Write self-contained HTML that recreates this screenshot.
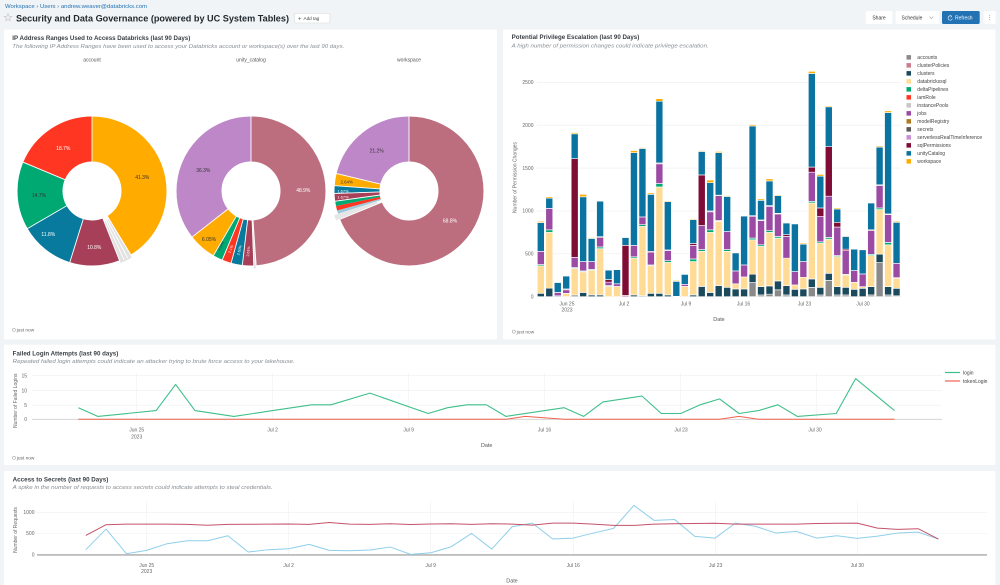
<!DOCTYPE html>
<html><head><meta charset="utf-8">
<style>
html,body{margin:0;padding:0;background:#f1f4f6;overflow:hidden;}
svg{display:block;font-family:"Liberation Sans",Arial,sans-serif;}
.A{fill:#8a8a8a}.C{fill:#1b4a5c}.Y{fill:#FFDB96}.G{fill:#00A972}.J{fill:#9b4ba3}.M{fill:#7f0c35}.U{fill:#0b73a0}.W{fill:#FFAB00}
.bars rect{stroke:#fff;stroke-width:0.6;vector-effect:non-scaling-stroke}
.tk{font-size:5px;fill:#666}
.ttl{font-size:6px;font-weight:bold;fill:#3a3f44}
.sub{font-size:5.4px;font-style:italic;fill:#8a8f94}
.lg{font-size:5px;fill:#444}
.pl{font-size:5px;text-anchor:middle}
.sep{stroke:#fff;stroke-width:0.9}
</style></head><body>
<svg width="1000" height="585" viewBox="0 0 1000 585">
<rect width="1000" height="585" fill="#f1f4f6"/>

<!-- Header -->
<text x="5" y="8" font-size="5" fill="#2272b4" textLength="142" lengthAdjust="spacingAndGlyphs">Workspace  ›  Users  ›  andrew.weaver@databricks.com</text>
<polygon points="8,13.6 9,16.3 11.8,16.4 9.6,18.1 10.4,20.8 8,19.2 5.6,20.8 6.4,18.1 4.2,16.4 7,16.3" fill="none" stroke="#c4c4c4" stroke-width="0.6"/>
<text x="16" y="21.6" font-size="9.6" font-weight="bold" fill="#1f272d" textLength="273" lengthAdjust="spacingAndGlyphs">Security and Data Governance (powered by UC System Tables)</text>
<rect x="294.5" y="13.5" width="35.5" height="9.5" rx="1.5" fill="#fff" stroke="#d6d9dc" stroke-width="0.6"/>
<text x="298" y="20.4" font-size="6" fill="#555">+</text>
<text x="303.5" y="20.1" font-size="4.6" fill="#444">Add tag</text>

<rect x="865.7" y="11" width="26.6" height="13" rx="1.5" fill="#fff"/>
<text x="879" y="19.3" font-size="5" fill="#333" text-anchor="middle">Share</text>
<rect x="895.7" y="11" width="43.6" height="13" rx="1.5" fill="#fff"/>
<text x="901.5" y="19.3" font-size="5" fill="#333">Schedule</text>
<path d="M929.5,16.6 L931.3,18.6 L933.1,16.6" fill="none" stroke="#666" stroke-width="0.5"/>
<rect x="942" y="11" width="37.7" height="13" rx="1.5" fill="#2272b4"/>
<path d="M951.6,16.2 A2.2,2.2 0 1 0 952.4,18.6" fill="none" stroke="#fff" stroke-width="0.6"/>
<path d="M950.4,15.2 L951.9,16.4 L950.5,17.5" fill="none" stroke="#fff" stroke-width="0.5"/>
<text x="955" y="19.3" font-size="5" fill="#fff">Refresh</text>
<rect x="983.7" y="11" width="12" height="13" rx="1.5" fill="#fff"/>
<circle cx="989.7" cy="15.3" r="0.45" fill="#888"/><circle cx="989.7" cy="17.5" r="0.45" fill="#888"/><circle cx="989.7" cy="19.7" r="0.45" fill="#888"/>

<!-- Panels -->
<rect x="4" y="29.5" width="493" height="310" rx="1.5" fill="#fff"/>
<rect x="503" y="29.5" width="492.5" height="310" rx="1.5" fill="#fff"/>
<rect x="4" y="344.7" width="991.5" height="120.3" rx="1.5" fill="#fff"/>
<rect x="4" y="471" width="991.5" height="120" rx="1.5" fill="#fff"/>

<!-- Panel 1: pies -->
<text class="ttl" x="12.3" y="40.2" textLength="178" lengthAdjust="spacingAndGlyphs">IP Address Ranges Used to Access Databricks (last 90 Days)</text>
<text class="sub" x="12.3" y="48.2" textLength="332" lengthAdjust="spacingAndGlyphs">The following IP Address Ranges have been used to access your Databricks account or workspace(s) over the last 90 days.</text>
<text x="92" y="61.7" font-size="5" fill="#555" text-anchor="middle">account</text>
<text x="251" y="61.7" font-size="5" fill="#555" text-anchor="middle">unity_catalog</text>
<text x="409" y="61.7" font-size="5" fill="#555" text-anchor="middle">workspace</text>

<!-- account pie -->
<g transform="translate(92 191) rotate(-90)" fill="none" stroke-width="45">
<circle r="52" stroke="#FFAB00" stroke-dasharray="134.94 400"/>
<circle r="52" stroke="#A63F57" stroke-dasharray="35.29 400" stroke-dashoffset="-143.76"/>
<circle r="52" stroke="#077A9D" stroke-dasharray="38.55 400" stroke-dashoffset="-179.05"/>
<circle r="52" stroke="#00A972" stroke-dasharray="48.03 400" stroke-dashoffset="-217.60"/>
<circle r="52" stroke="#FF3621" stroke-dasharray="61.10 400" stroke-dashoffset="-265.63"/>
<g transform="translate(-2.7 1.3)"><circle r="52" stroke="#e2e2e2" stroke-dasharray="8.82 400" stroke-dashoffset="-134.94"/></g>
<g class="sep">
<line x1="29" x2="76"/><line x1="29" x2="76" transform="rotate(148.68)"/><line x1="29" x2="76" transform="rotate(152)"/><line x1="29" x2="76" transform="rotate(155)"/><line x1="29" x2="76" transform="rotate(158.4)"/><line x1="29" x2="76" transform="rotate(197.28)"/><line x1="29" x2="76" transform="rotate(239.76)"/><line x1="29" x2="76" transform="rotate(292.68)"/>
</g>
</g>
<text class="pl" x="142.3" y="179" fill="#333">41.3%</text>
<text class="pl" x="63.3" y="150" fill="#fff">18.7%</text>
<text class="pl" x="39" y="197" fill="#333">14.7%</text>
<text class="pl" x="48.3" y="236" fill="#fff">11.8%</text>
<text class="pl" x="94.3" y="249" fill="#fff">10.8%</text>

<!-- unity pie -->
<g transform="translate(251 191) rotate(-90)" fill="none" stroke-width="45">
<circle r="52" stroke="#BC6E7E" stroke-dasharray="159.77 400"/>
<circle r="52" stroke="#A63F57" stroke-dasharray="8.00 400" stroke-dashoffset="-161.40"/>
<circle r="52" stroke="#077A9D" stroke-dasharray="8.00 400" stroke-dashoffset="-169.40"/>
<circle r="52" stroke="#FF3621" stroke-dasharray="6.53 400" stroke-dashoffset="-177.40"/>
<circle r="52" stroke="#00A972" stroke-dasharray="6.86 400" stroke-dashoffset="-183.93"/>
<circle r="52" stroke="#FFAB00" stroke-dasharray="19.77 400" stroke-dashoffset="-190.79"/>
<circle r="52" stroke="#BE88C8" stroke-dasharray="116.15 400" stroke-dashoffset="-210.56"/>
<g transform="translate(-3 0.2)"><circle r="52" stroke="#e2e2e2" stroke-dasharray="1.63 400" stroke-dashoffset="-159.77"/></g>
<g class="sep">
<line x1="29" x2="76"/><line x1="29" x2="76" transform="rotate(176.04)"/><line x1="29" x2="76" transform="rotate(177.84)"/><line x1="29" x2="76" transform="rotate(186.65)"/><line x1="29" x2="76" transform="rotate(195.46)"/><line x1="29" x2="76" transform="rotate(202.66)"/><line x1="29" x2="76" transform="rotate(210.22)"/><line x1="29" x2="76" transform="rotate(231.99)"/>
</g>
</g>
<text class="pl" x="203.3" y="172" fill="#333">36.3%</text>
<text class="pl" x="303.3" y="192" fill="#fff">48.9%</text>
<text class="pl" x="209" y="241" fill="#333">6.05%</text>
<text font-size="3.6" fill="#fff" text-anchor="middle" transform="translate(249.5 251.5) rotate(-84)">2.61%</text>
<text font-size="3.6" fill="#fff" text-anchor="middle" transform="translate(240.5 250.5) rotate(-76)">2.63%</text>
<text font-size="3.6" fill="#fff" text-anchor="middle" transform="translate(231.8 249.5) rotate(-69)">2.1%</text>
<text font-size="3.6" fill="#333" text-anchor="middle" transform="translate(222 246.5) rotate(-62)">2.24%</text>

<!-- workspace pie -->
<g transform="translate(409 191) rotate(-90)" fill="none" stroke-width="45">
<circle r="52" stroke="#BC6E7E" stroke-dasharray="224.79 400"/>
<circle r="52" stroke="#9cc9dc" stroke-dasharray="2.29 400" stroke-dashoffset="-228.71"/>
<circle r="52" stroke="#FF3621" stroke-dasharray="3.27 400" stroke-dashoffset="-231.00"/>
<circle r="52" stroke="#00A972" stroke-dasharray="3.59 400" stroke-dashoffset="-234.27"/>
<circle r="52" stroke="#A63F57" stroke-dasharray="5.46 400" stroke-dashoffset="-237.86"/>
<circle r="52" stroke="#077A9D" stroke-dasharray="5.46 400" stroke-dashoffset="-243.32"/>
<circle r="52" stroke="#FFAB00" stroke-dasharray="8.63 400" stroke-dashoffset="-248.78"/>
<circle r="52" stroke="#BE88C8" stroke-dasharray="69.33 400" stroke-dashoffset="-257.41"/>
<g transform="translate(-1.4 -3.8)"><circle r="52" stroke="#e6e6e6" stroke-dasharray="3.92 400" stroke-dashoffset="-224.79"/></g>
<g class="sep">
<line x1="29" x2="76"/><line x1="29" x2="76" transform="rotate(247.68)"/><line x1="29" x2="76" transform="rotate(262.08)"/><line x1="29" x2="76" transform="rotate(268.09)"/><line x1="29" x2="76" transform="rotate(274.1)"/><line x1="29" x2="76" transform="rotate(283.6)"/>
</g>
</g>
<text class="pl" x="376.7" y="152.5" fill="#333">21.2%</text>
<text class="pl" x="450" y="222.5" fill="#fff">68.8%</text>
<text x="346.7" y="183.5" font-size="4.4" fill="#333" text-anchor="middle">2.64%</text>
<text x="343" y="192.4" font-size="4" fill="#fff" text-anchor="middle">1.67%</text>
<text x="343" y="198.3" font-size="4" fill="#fff" text-anchor="middle">1.67%</text>

<circle cx="13.8" cy="329.8" r="1.6" fill="none" stroke="#888" stroke-width="0.5"/>
<text x="16.6" y="331.6" font-size="4.8" fill="#666">just now</text>

<!-- Panel 2: bars -->
<text class="ttl" x="511.7" y="39.2" textLength="127.6" lengthAdjust="spacingAndGlyphs">Potential Privilege Escalation (last 90 Days)</text>
<text class="sub" x="511.7" y="47.6" textLength="197" lengthAdjust="spacingAndGlyphs">A high number of permission changes could indicate privilege escalation.</text>
<g stroke="#eeeeee" stroke-width="0.6">
<line x1="537" x2="901" y1="82.3" y2="82.3"/><line x1="537" x2="901" y1="125.2" y2="125.2"/><line x1="537" x2="901" y1="168.1" y2="168.1"/><line x1="537" x2="901" y1="211" y2="211"/><line x1="537" x2="901" y1="253.8" y2="253.8"/>
</g>
<line x1="537" x2="901" y1="296.7" y2="296.7" stroke="#d6d6d6" stroke-width="0.6"/>
<g class="tk" text-anchor="end">
<text x="533.5" y="84">2500</text><text x="533.5" y="126.9">2000</text><text x="533.5" y="169.8">1500</text><text x="533.5" y="212.7">1000</text><text x="533.5" y="255.5">500</text><text x="533.5" y="298.4">0</text>
</g>
<text class="tk" transform="translate(516.5 177.5) rotate(-90)" text-anchor="middle">Number of Permission Changes</text>
<g class="tk" text-anchor="middle">
<text x="567" y="305.7">Jun 25</text><text x="567" y="311.7">2023</text>
<text x="624" y="305.7">Jul 2</text><text x="686" y="305.7">Jul 9</text><text x="743.5" y="305.7">Jul 16</text><text x="804.5" y="305.7">Jul 23</text><text x="863" y="305.7">Jul 30</text>
</g>
<text x="719" y="320.8" font-size="5.4" fill="#555" text-anchor="middle">Date</text>

<g class="bars" transform="translate(0 296.7) scale(1 -0.08572)">
<g transform="translate(537.3 0)"><rect class="C" width="7" y="0" height="40"/><rect class="Y" width="7" y="40" height="320"/><rect class="G" width="7" y="360" height="15"/><rect class="J" width="7" y="375" height="155"/><rect class="U" width="7" y="530" height="335"/><rect class="W" width="7" y="865" height="15"/></g>
<g transform="translate(545.77 0)"><rect class="C" width="7" y="0" height="100"/><rect class="Y" width="7" y="100" height="650"/><rect class="G" width="7" y="750" height="30"/><rect class="J" width="7" y="780" height="250"/><rect class="U" width="7" y="1030" height="120"/><rect class="W" width="7" y="1150" height="15"/></g>
<g transform="translate(554.24 0)"><rect class="C" width="7" y="0" height="10"/><rect class="J" width="7" y="10" height="40"/><rect class="U" width="7" y="50" height="115"/></g>
<g transform="translate(562.71 0)"><rect class="Y" width="7" y="0" height="40"/><rect class="J" width="7" y="40" height="40"/><rect class="M" width="7" y="80" height="10"/><rect class="U" width="7" y="90" height="150"/></g>
<g transform="translate(571.18 0)"><rect class="A" width="7" y="0" height="20"/><rect class="Y" width="7" y="20" height="310"/><rect class="G" width="7" y="330" height="10"/><rect class="J" width="7" y="340" height="120"/><rect class="M" width="7" y="460" height="1150"/><rect class="U" width="7" y="1610" height="290"/><rect class="W" width="7" y="1900" height="15"/></g>
<g transform="translate(579.65 0)"><rect class="C" width="7" y="0" height="50"/><rect class="Y" width="7" y="50" height="240"/><rect class="G" width="7" y="290" height="10"/><rect class="J" width="7" y="300" height="110"/><rect class="U" width="7" y="410" height="755"/><rect class="W" width="7" y="1165" height="30"/></g>
<g transform="translate(588.12 0)"><rect class="C" width="7" y="0" height="20"/><rect class="Y" width="7" y="20" height="290"/><rect class="G" width="7" y="310" height="10"/><rect class="J" width="7" y="320" height="90"/><rect class="U" width="7" y="410" height="270"/><rect class="W" width="7" y="680" height="10"/></g>
<g transform="translate(596.59 0)"><rect class="C" width="7" y="0" height="20"/><rect class="Y" width="7" y="20" height="540"/><rect class="G" width="7" y="560" height="20"/><rect class="J" width="7" y="580" height="110"/><rect class="M" width="7" y="690" height="10"/><rect class="U" width="7" y="700" height="415"/><rect class="W" width="7" y="1115" height="5"/></g>
<g transform="translate(605.06 0)"><rect class="Y" width="7" y="0" height="120"/><rect class="G" width="7" y="120" height="10"/><rect class="J" width="7" y="130" height="40"/><rect class="M" width="7" y="170" height="30"/><rect class="U" width="7" y="200" height="110"/><rect class="W" width="7" y="310" height="5"/></g>
<g transform="translate(613.53 0)"><rect class="Y" width="7" y="0" height="120"/><rect class="J" width="7" y="120" height="30"/><rect class="U" width="7" y="150" height="165"/></g>
<g transform="translate(622 0)"><rect class="J" width="7" y="0" height="15"/><rect class="M" width="7" y="15" height="585"/><rect class="U" width="7" y="600" height="90"/></g>
<g transform="translate(630.47 0)"><rect class="C" width="7" y="0" height="20"/><rect class="Y" width="7" y="20" height="430"/><rect class="G" width="7" y="450" height="15"/><rect class="J" width="7" y="465" height="135"/><rect class="U" width="7" y="600" height="1080"/><rect class="W" width="7" y="1680" height="25"/></g>
<g transform="translate(638.94 0)"><rect class="C" width="7" y="0" height="10"/><rect class="Y" width="7" y="10" height="810"/><rect class="G" width="7" y="820" height="20"/><rect class="J" width="7" y="840" height="90"/><rect class="U" width="7" y="930" height="800"/><rect class="W" width="7" y="1730" height="10"/></g>
<g transform="translate(647.41 0)"><rect class="C" width="7" y="0" height="40"/><rect class="Y" width="7" y="40" height="320"/><rect class="G" width="7" y="360" height="10"/><rect class="J" width="7" y="370" height="150"/><rect class="M" width="7" y="520" height="10"/><rect class="U" width="7" y="530" height="665"/><rect class="W" width="7" y="1195" height="15"/></g>
<g transform="translate(655.88 0)"><rect class="C" width="7" y="0" height="40"/><rect class="Y" width="7" y="40" height="1240"/><rect class="G" width="7" y="1280" height="40"/><rect class="J" width="7" y="1320" height="230"/><rect class="M" width="7" y="1550" height="10"/><rect class="U" width="7" y="1560" height="720"/><rect class="W" width="7" y="2280" height="30"/></g>
<g transform="translate(664.35 0)"><rect class="C" width="7" y="0" height="20"/><rect class="Y" width="7" y="20" height="380"/><rect class="G" width="7" y="400" height="20"/><rect class="J" width="7" y="420" height="120"/><rect class="M" width="7" y="540" height="5"/><rect class="U" width="7" y="545" height="565"/><rect class="W" width="7" y="1110" height="10"/></g>
<g transform="translate(672.82 0)"><rect class="J" width="7" y="0" height="5"/><rect class="U" width="7" y="5" height="175"/><rect class="W" width="7" y="180" height="10"/></g>
<g transform="translate(681.29 0)"><rect class="Y" width="7" y="0" height="120"/><rect class="J" width="7" y="120" height="25"/><rect class="U" width="7" y="145" height="115"/></g>
<g transform="translate(689.76 0)"><rect class="C" width="7" y="0" height="20"/><rect class="Y" width="7" y="20" height="390"/><rect class="G" width="7" y="410" height="30"/><rect class="J" width="7" y="440" height="160"/><rect class="M" width="7" y="600" height="20"/><rect class="U" width="7" y="620" height="280"/><rect class="W" width="7" y="900" height="10"/></g>
<g transform="translate(698.23 0)"><rect class="C" width="7" y="0" height="120"/><rect class="Y" width="7" y="120" height="410"/><rect class="G" width="7" y="530" height="20"/><rect class="J" width="7" y="550" height="280"/><rect class="M" width="7" y="830" height="590"/><rect class="U" width="7" y="1420" height="275"/><rect class="W" width="7" y="1695" height="10"/></g>
<g transform="translate(706.7 0)"><rect class="C" width="7" y="0" height="50"/><rect class="Y" width="7" y="50" height="700"/><rect class="G" width="7" y="750" height="30"/><rect class="J" width="7" y="780" height="210"/><rect class="M" width="7" y="990" height="10"/><rect class="U" width="7" y="1000" height="330"/><rect class="W" width="7" y="1330" height="30"/></g>
<g transform="translate(715.17 0)"><rect class="C" width="7" y="0" height="130"/><rect class="Y" width="7" y="130" height="750"/><rect class="G" width="7" y="880" height="10"/><rect class="J" width="7" y="890" height="290"/><rect class="M" width="7" y="1180" height="5"/><rect class="U" width="7" y="1185" height="495"/><rect class="W" width="7" y="1680" height="15"/></g>
<g transform="translate(723.64 0)"><rect class="C" width="7" y="0" height="110"/><rect class="Y" width="7" y="110" height="420"/><rect class="G" width="7" y="530" height="20"/><rect class="J" width="7" y="550" height="210"/><rect class="U" width="7" y="760" height="410"/><rect class="W" width="7" y="1170" height="10"/></g>
<g transform="translate(732.11 0)"><rect class="C" width="7" y="0" height="90"/><rect class="Y" width="7" y="90" height="60"/><rect class="J" width="7" y="150" height="150"/><rect class="U" width="7" y="300" height="210"/></g>
<g transform="translate(740.58 0)"><rect class="C" width="7" y="0" height="90"/><rect class="Y" width="7" y="90" height="140"/><rect class="J" width="7" y="230" height="140"/><rect class="U" width="7" y="370" height="570"/></g>
<g transform="translate(749.05 0)"><rect class="A" width="7" y="0" height="165"/><rect class="C" width="7" y="165" height="97"/><rect class="Y" width="7" y="262" height="402"/><rect class="G" width="7" y="664" height="20"/><rect class="J" width="7" y="684" height="253"/><rect class="M" width="7" y="937" height="8"/><rect class="U" width="7" y="945" height="1047"/><rect class="W" width="7" y="1992" height="16"/></g>
<g transform="translate(757.52 0)"><rect class="A" width="7" y="0" height="20"/><rect class="C" width="7" y="20" height="97"/><rect class="Y" width="7" y="117" height="469"/><rect class="G" width="7" y="586" height="19"/><rect class="J" width="7" y="605" height="282"/><rect class="M" width="7" y="887" height="8"/><rect class="U" width="7" y="895" height="230"/><rect class="W" width="7" y="1125" height="15"/></g>
<g transform="translate(765.99 0)"><rect class="A" width="7" y="0" height="30"/><rect class="C" width="7" y="30" height="95"/><rect class="Y" width="7" y="125" height="625"/><rect class="G" width="7" y="750" height="20"/><rect class="J" width="7" y="770" height="285"/><rect class="M" width="7" y="1055" height="8"/><rect class="U" width="7" y="1063" height="287"/><rect class="W" width="7" y="1350" height="25"/></g>
<g transform="translate(774.46 0)"><rect class="A" width="7" y="0" height="80"/><rect class="C" width="7" y="80" height="104"/><rect class="Y" width="7" y="184" height="500"/><rect class="G" width="7" y="684" height="19"/><rect class="J" width="7" y="703" height="262"/><rect class="M" width="7" y="965" height="8"/><rect class="U" width="7" y="973" height="207"/><rect class="W" width="7" y="1180" height="10"/></g>
<g transform="translate(782.93 0)"><rect class="A" width="7" y="0" height="20"/><rect class="C" width="7" y="20" height="110"/><rect class="Y" width="7" y="130" height="320"/><rect class="J" width="7" y="450" height="253"/><rect class="M" width="7" y="703" height="20"/><rect class="U" width="7" y="723" height="137"/><rect class="W" width="7" y="860" height="7"/></g>
<g transform="translate(791.4 0)"><rect class="C" width="7" y="0" height="86"/><rect class="Y" width="7" y="86" height="51"/><rect class="J" width="7" y="137" height="156"/><rect class="U" width="7" y="293" height="555"/></g>
<g transform="translate(799.87 0)"><rect class="C" width="7" y="0" height="90"/><rect class="Y" width="7" y="90" height="137"/><rect class="J" width="7" y="227" height="183"/><rect class="U" width="7" y="410" height="203"/><rect class="W" width="7" y="613" height="12"/></g>
<g transform="translate(808.34 0)"><rect class="A" width="7" y="0" height="110"/><rect class="C" width="7" y="110" height="97"/><rect class="Y" width="7" y="207" height="887"/><rect class="G" width="7" y="1094" height="19"/><rect class="J" width="7" y="1113" height="340"/><rect class="M" width="7" y="1453" height="59"/><rect class="U" width="7" y="1512" height="1093"/><rect class="W" width="7" y="2605" height="24"/></g>
<g transform="translate(816.81 0)"><rect class="A" width="7" y="0" height="20"/><rect class="C" width="7" y="20" height="90"/><rect class="Y" width="7" y="110" height="515"/><rect class="G" width="7" y="625" height="15"/><rect class="J" width="7" y="640" height="297"/><rect class="M" width="7" y="937" height="98"/><rect class="U" width="7" y="1035" height="371"/><rect class="W" width="7" y="1406" height="20"/></g>
<g transform="translate(825.28 0)"><rect class="A" width="7" y="0" height="190"/><rect class="C" width="7" y="190" height="83"/><rect class="Y" width="7" y="273" height="399"/><rect class="G" width="7" y="672" height="19"/><rect class="J" width="7" y="691" height="481"/><rect class="M" width="7" y="1172" height="578"/><rect class="U" width="7" y="1750" height="465"/><rect class="W" width="7" y="2215" height="11"/></g>
<g transform="translate(833.75 0)"><rect class="A" width="7" y="0" height="20"/><rect class="C" width="7" y="20" height="97"/><rect class="Y" width="7" y="117" height="352"/><rect class="G" width="7" y="469" height="11"/><rect class="J" width="7" y="480" height="332"/><rect class="M" width="7" y="812" height="55"/><rect class="U" width="7" y="867" height="156"/><rect class="W" width="7" y="1023" height="12"/></g>
<g transform="translate(842.22 0)"><rect class="A" width="7" y="0" height="20"/><rect class="C" width="7" y="20" height="90"/><rect class="Y" width="7" y="110" height="144"/><rect class="G" width="7" y="254" height="8"/><rect class="J" width="7" y="262" height="277"/><rect class="M" width="7" y="539" height="16"/><rect class="U" width="7" y="555" height="148"/><rect class="W" width="7" y="703" height="8"/></g>
<g transform="translate(850.69 0)"><rect class="C" width="7" y="0" height="86"/><rect class="Y" width="7" y="86" height="82"/><rect class="J" width="7" y="168" height="137"/><rect class="U" width="7" y="305" height="250"/><rect class="W" width="7" y="555" height="5"/></g>
<g transform="translate(859.16 0)"><rect class="C" width="7" y="0" height="98"/><rect class="Y" width="7" y="98" height="19"/><rect class="J" width="7" y="117" height="148"/><rect class="U" width="7" y="265" height="282"/></g>
<g transform="translate(867.63 0)"><rect class="A" width="7" y="0" height="20"/><rect class="C" width="7" y="20" height="97"/><rect class="Y" width="7" y="117" height="363"/><rect class="G" width="7" y="480" height="15"/><rect class="J" width="7" y="495" height="275"/><rect class="M" width="7" y="770" height="10"/><rect class="U" width="7" y="780" height="314"/><rect class="W" width="7" y="1094" height="6"/></g>
<g transform="translate(876.1 0)"><rect class="A" width="7" y="0" height="402"/><rect class="C" width="7" y="402" height="94"/><rect class="Y" width="7" y="496" height="520"/><rect class="G" width="7" y="1016" height="19"/><rect class="J" width="7" y="1035" height="262"/><rect class="M" width="7" y="1297" height="8"/><rect class="U" width="7" y="1305" height="441"/><rect class="W" width="7" y="1746" height="12"/></g>
<g transform="translate(884.57 0)"><rect class="A" width="7" y="0" height="20"/><rect class="C" width="7" y="20" height="97"/><rect class="Y" width="7" y="117" height="488"/><rect class="G" width="7" y="605" height="28"/><rect class="J" width="7" y="633" height="324"/><rect class="M" width="7" y="957" height="8"/><rect class="U" width="7" y="965" height="1183"/><rect class="W" width="7" y="2148" height="20"/></g>
<g transform="translate(893.04 0)"><rect class="A" width="7" y="0" height="10"/><rect class="C" width="7" y="10" height="88"/><rect class="Y" width="7" y="98" height="117"/><rect class="G" width="7" y="215" height="7"/><rect class="J" width="7" y="222" height="168"/><rect class="U" width="7" y="390" height="477"/><rect class="W" width="7" y="867" height="12"/></g>
</g>

<!-- bar legend -->
<g>
<rect x="906.5" y="55.1" width="4.5" height="4.5" fill="#8a8a8a"/><text class="lg" x="917.3" y="59">accounts</text>
<rect x="906.5" y="63.1" width="4.5" height="4.5" fill="#c97d8e"/><text class="lg" x="917.3" y="67">clusterPolicies</text>
<rect x="906.5" y="71.1" width="4.5" height="4.5" fill="#1b4a5c"/><text class="lg" x="917.3" y="75">clusters</text>
<rect x="906.5" y="79.1" width="4.5" height="4.5" fill="#FFDB96"/><text class="lg" x="917.3" y="83">databrickssql</text>
<rect x="906.5" y="87.1" width="4.5" height="4.5" fill="#00A972"/><text class="lg" x="917.3" y="91">deltaPipelines</text>
<rect x="906.5" y="95.1" width="4.5" height="4.5" fill="#FF3621"/><text class="lg" x="917.3" y="99">iamRole</text>
<rect x="906.5" y="103.1" width="4.5" height="4.5" fill="#c7c7c7"/><text class="lg" x="917.3" y="107">instancePools</text>
<rect x="906.5" y="111.1" width="4.5" height="4.5" fill="#9b4ba3"/><text class="lg" x="917.3" y="115">jobs</text>
<rect x="906.5" y="119.1" width="4.5" height="4.5" fill="#b07a1f"/><text class="lg" x="917.3" y="123">modelRegistry</text>
<rect x="906.5" y="127.1" width="4.5" height="4.5" fill="#5a5a5a"/><text class="lg" x="917.3" y="131">secrets</text>
<rect x="906.5" y="135.1" width="4.5" height="4.5" fill="#c78fd5"/><text class="lg" x="917.3" y="139">serverlessRealTimeInference</text>
<rect x="906.5" y="143.1" width="4.5" height="4.5" fill="#7f0c35"/><text class="lg" x="917.3" y="147">sqlPermissions</text>
<rect x="906.5" y="151.1" width="4.5" height="4.5" fill="#0b73a0"/><text class="lg" x="917.3" y="155">unityCatalog</text>
<rect x="906.5" y="159.1" width="4.5" height="4.5" fill="#FFAB00"/><text class="lg" x="917.3" y="163">workspace</text>
</g>
<circle cx="513.8" cy="331.6" r="1.6" fill="none" stroke="#888" stroke-width="0.5"/>
<text x="516.6" y="333.4" font-size="4.8" fill="#666">just now</text>

<!-- Panel 3: failed logins -->
<text class="ttl" x="12.7" y="355.3" textLength="105.6" lengthAdjust="spacingAndGlyphs">Failed Login Attempts (last 90 days)</text>
<text class="sub" x="12.7" y="363.2" textLength="282" lengthAdjust="spacingAndGlyphs">Repeated failed login attempts could indicate an attacker trying to brute force access to your lakehouse.</text>
<g stroke="#efefef" stroke-width="0.6">
<line x1="32" x2="942" y1="375.7" y2="375.7"/><line x1="32" x2="942" y1="390.7" y2="390.7"/><line x1="32" x2="942" y1="405.2" y2="405.2"/>
<line x1="136.7" x2="136.7" y1="373" y2="419.3"/><line x1="272.7" x2="272.7" y1="373" y2="419.3"/><line x1="408.7" x2="408.7" y1="373" y2="419.3"/><line x1="544.7" x2="544.7" y1="373" y2="419.3"/><line x1="680.7" x2="680.7" y1="373" y2="419.3"/><line x1="816.7" x2="816.7" y1="373" y2="419.3"/>
</g>
<line x1="32" x2="942" y1="419.3" y2="419.3" stroke="#cfcfcf" stroke-width="0.9"/>
<g class="tk" text-anchor="end">
<text x="27" y="377.4">15</text><text x="27" y="392.4">10</text><text x="27" y="406.9">5</text><text x="27" y="421">0</text>
</g>
<text class="tk" transform="translate(17 400.8) rotate(-90)" text-anchor="middle">Number of Failed Logins</text>
<g class="tk" text-anchor="middle">
<text x="136.7" y="431.7">Jun 25</text><text x="136.7" y="438.4">2023</text>
<text x="272.7" y="431.7">Jul 2</text><text x="408.7" y="431.7">Jul 9</text><text x="544.5" y="431.7">Jul 16</text><text x="681" y="431.7">Jul 23</text><text x="815" y="431.7">Jul 30</text>
</g>
<text x="486.7" y="447" font-size="5.4" fill="#555" text-anchor="middle">Date</text>
<polyline fill="none" stroke="#f2624f" stroke-width="1" stroke-linejoin="round" points="78.4,419.3 505.9,419.3 525.3,416.4 564.2,419.3 719.6,419.3 739,416.4 758.5,419.3 894.5,419.3"/>
<polyline fill="none" stroke="#3fbf8b" stroke-width="1.1" stroke-linejoin="round" points="78.4,407.7 97.8,416.4 156.1,410.6 175.6,384.4 195.0,410.6 233.9,416.4 272.7,410.6 311.6,404.8 331.0,404.8 369.9,393.1 428.2,413.5 447.6,407.7 467.0,404.8 486.4,404.8 505.9,416.4 564.2,407.7 583.6,416.4 603.0,401.9 641.9,396.0 661.3,413.5 680.7,413.5 700.2,404.8 719.6,398.9 739.0,413.5 758.5,410.6 777.9,404.8 797.3,416.4 836.2,413.5 855.6,378.6 894.5,410.6"/>
<line x1="945" x2="960" y1="372.5" y2="372.5" stroke="#3fbf8b" stroke-width="1.2"/>
<text class="lg" x="963" y="374.3">login</text>
<line x1="945" x2="960" y1="381" y2="381" stroke="#f2624f" stroke-width="1.2"/>
<text class="lg" x="963" y="382.8">tokenLogin</text>
<circle cx="14" cy="457.8" r="1.6" fill="none" stroke="#888" stroke-width="0.5"/>
<text x="16.8" y="459.6" font-size="4.8" fill="#666">just now</text>

<!-- Panel 4: secrets -->
<text class="ttl" x="12.7" y="481.5" textLength="95.6" lengthAdjust="spacingAndGlyphs">Access to Secrets (last 90 Days)</text>
<text class="sub" x="12.7" y="489.2" textLength="260" lengthAdjust="spacingAndGlyphs">A spike in the number of requests to access secrets could indicate attempts to steal credentials.</text>
<g stroke="#efefef" stroke-width="0.6">
<line x1="37" x2="987" y1="512.3" y2="512.3"/><line x1="37" x2="987" y1="533.5" y2="533.5"/>
<line x1="146.7" x2="146.7" y1="501" y2="554.7"/><line x1="288.7" x2="288.7" y1="501" y2="554.7"/><line x1="430.7" x2="430.7" y1="501" y2="554.7"/><line x1="573.3" x2="573.3" y1="501" y2="554.7"/><line x1="715.7" x2="715.7" y1="501" y2="554.7"/><line x1="857.3" x2="857.3" y1="501" y2="554.7"/>
</g>
<line x1="37" x2="987" y1="554.9" y2="554.9" stroke="#a9a9a9" stroke-width="1.4"/>
<g class="tk" text-anchor="end">
<text x="34.5" y="514">1000</text><text x="34.5" y="535.2">500</text><text x="34.5" y="556.4">0</text>
</g>
<text class="tk" transform="translate(17 530) rotate(-90)" text-anchor="middle">Number of Requests</text>
<g class="tk" text-anchor="middle">
<text x="146.7" y="567">Jun 25</text><text x="146.7" y="573">2023</text>
<text x="288.7" y="567">Jul 2</text><text x="430.7" y="567">Jul 9</text><text x="573.3" y="567">Jul 16</text><text x="715.7" y="567">Jul 23</text><text x="857.3" y="567">Jul 30</text>
</g>
<text x="512" y="582.5" font-size="5.4" fill="#555" text-anchor="middle">Date</text>
<polyline fill="none" stroke="#8fcfea" stroke-width="1" stroke-linejoin="round" points="85.8,549.69 106.1,529.07 126.4,553.68 146.7,550.37 167.0,543.71 187.3,540.74 207.6,540.74 227.9,535.73 248.2,552.03 268.5,549.69 288.8,548.72 309.1,544.39 329.4,550.37 349.7,550.71 370.0,550.03 390.3,547.06 410.6,554.36 430.9,552.71 451.2,546.72 471.5,533.40 491.8,549.06 512.1,526.74 532.4,523.09 552.7,539.04 573.0,538.07 593.3,533.06 613.6,528.39 633.9,505.44 654.2,520.42 674.5,519.44 694.8,536.41 715.1,538.07 735.4,523.09 755.7,526.40 776.0,533.06 796.3,531.41 816.6,538.07 836.9,535.73 857.2,538.41 877.5,536.07 897.8,533.06 918.1,532.09 938.4,539.04"/>
<polyline fill="none" stroke="#c4526a" stroke-width="1" stroke-linejoin="round" points="85.8,535.39 106.1,524.74 126.4,524.15 146.7,524.07 167.0,524.07 187.3,524.36 207.6,525.21 227.9,524.36 248.2,524.24 268.5,524.15 288.8,523.94 309.1,524.36 329.4,522.45 349.7,524.15 370.0,524.36 390.3,523.73 410.6,524.49 430.9,523.94 451.2,523.73 471.5,524.36 491.8,523.73 512.1,524.07 532.4,525.08 552.7,523.09 573.0,523.09 593.3,524.15 613.6,525.42 633.9,525.42 654.2,524.15 674.5,523.73 694.8,523.51 715.1,523.30 735.4,524.15 755.7,524.15 776.0,524.07 796.3,524.15 816.6,523.51 836.9,523.30 857.2,523.09 877.5,528.10 897.8,529.41 918.1,528.73 938.4,539.04"/>
</svg>
</body></html>
